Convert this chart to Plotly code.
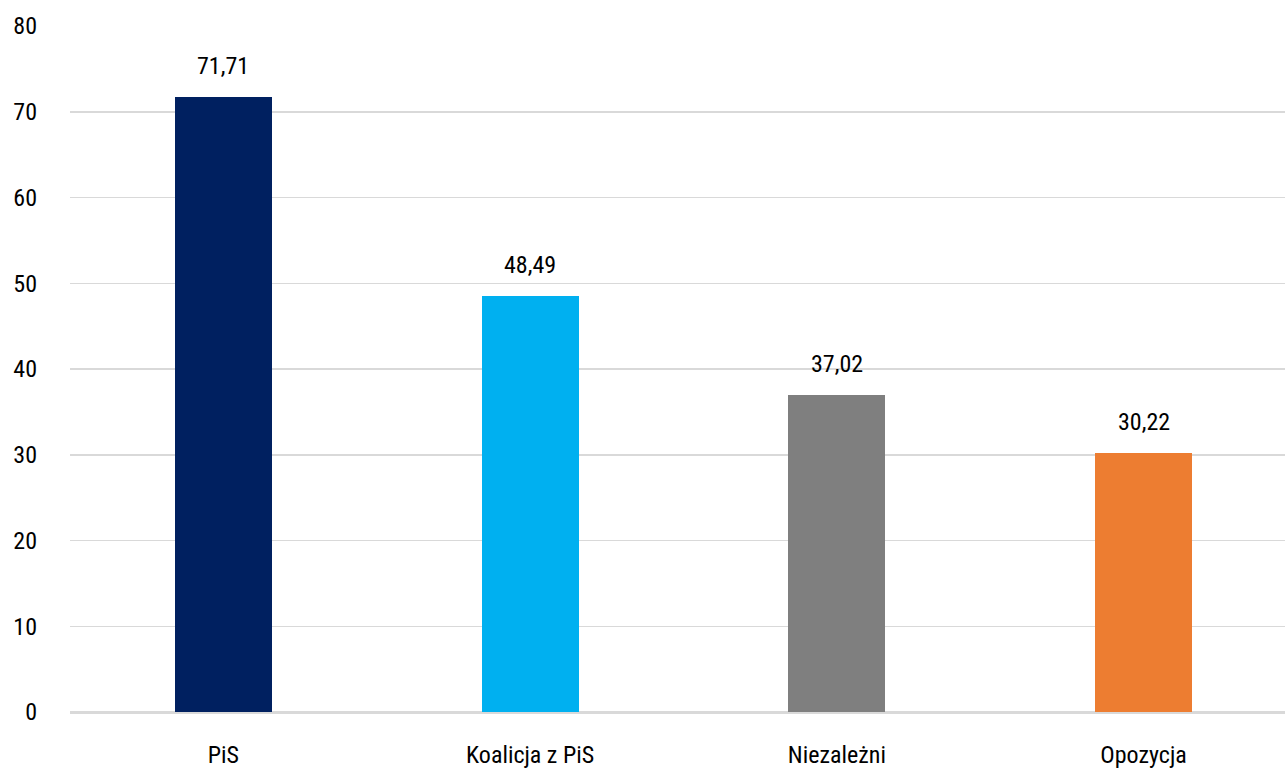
import plotly.graph_objects as go

categories = ["PiS", "Koalicja z PiS", "Niezależni", "Opozycja"]
values = [71.71, 48.49, 37.02, 30.22]
colors = ["#002060", "#00B0F0", "#7F7F7F", "#ED7D31"]
y_ticks = [0, 10, 20, 30, 40, 50, 60, 70, 80]

FONT = "Roboto Condensed, Liberation Sans Narrow, DejaVu Sans Condensed, Roboto, sans-serif"

fig = go.Figure()
fig.add_trace(go.Bar(
    x=list(range(len(categories))),
    y=values,
    marker=dict(color=colors, line=dict(width=0)),
    width=0.316,
    hoverinfo="skip",
))

for i, v in enumerate(values):
    fig.add_annotation(
        x=i, y=v, text=f"{v:.2f}".replace(".", ","),
        showarrow=False, yanchor="bottom", yshift=15,
        font=dict(family=FONT, size=24, color="#000000"),
    )

fig.update_layout(
    width=1285, height=772,
    margin=dict(l=70, r=0, t=26, b=60),
    paper_bgcolor="white", plot_bgcolor="white",
    showlegend=False,
    font=dict(family=FONT, size=24, color="#000000"),
    bargap=0,
)
fig.update_xaxes(
    tickmode="array",
    tickvals=list(range(len(categories))),
    ticktext=categories,
    range=[-0.5, 3.461],
    showgrid=False, zeroline=False, showline=False,
    ticks="", ticklabelstandoff=26,
)
fig.update_yaxes(
    range=[0, 80],
    tickmode="array", tickvals=y_ticks,
    showgrid=True, gridcolor="#D9D9D9", gridwidth=1.5,
    zeroline=True, zerolinecolor="#D9D9D9", zerolinewidth=3,
    showline=False, ticks="", ticklabelstandoff=32,
)

fig.write_html(
    "out.html",
    config={"displayModeBar": False, "staticPlot": True},
    post_script="document.body.style.margin='0';document.body.style.overflow='hidden';",
)
